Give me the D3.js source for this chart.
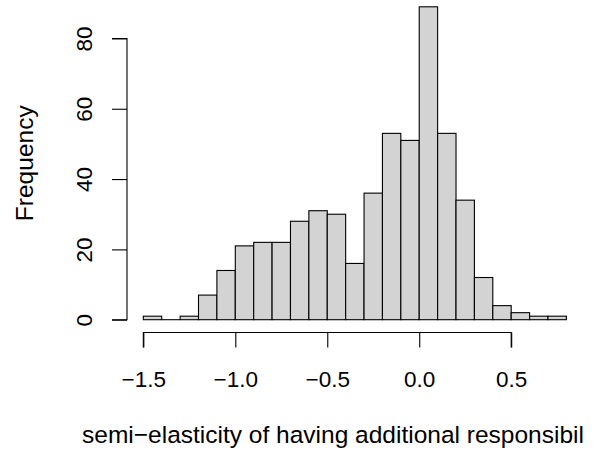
<!DOCTYPE html>
<html>
<head>
<meta charset="utf-8">
<script src="https://cdn.jsdelivr.net/npm/d3@7"></script>
<style>
  body { margin: 0; background: #fff; }
  svg text { font-family: "Liberation Sans", Arial, Helvetica, sans-serif; fill: #000; }
</style>
</head>
<body>
<svg id="hist" width="596" height="456"></svg>
<script>
// histogram bins (width 0.1) and counts
const binStarts = [-1.5, -1.4, -1.3, -1.2, -1.1, -1.0, -0.9, -0.8, -0.7, -0.6, -0.5, -0.4,
  -0.3, -0.2, -0.1, 0.0, 0.1, 0.2, 0.3, 0.4, 0.5, 0.6, 0.7];
const counts = [1, 0, 1, 7, 14, 21, 22, 22, 28, 31, 30, 16,
  36, 53, 51, 89, 53, 34, 12, 4, 2, 1, 1];
const binWidth = 0.1;
const xTicks = [-1.5, -1.0, -0.5, 0.0, 0.5];
const yTicks = [0, 20, 40, 60, 80];

const tickFont = 22.5;
const labFont = 24.5;
const svg = d3.select("#hist");

// plot region (R style: 4% padding on the data range)
const x = d3.scaleLinear().domain([-1.592, 0.892]).range([126.4, 583.3]);
const y = d3.scaleLinear().domain([0, 89]).range([319.7, 6.8]);

const bins = binStarts.map((b, i) => ({ x0: b, x1: b + binWidth, n: counts[i] }));

// bars
svg.selectAll("rect.bar")
  .data(bins.filter(d => d.n > 0))
  .enter()
  .append("rect")
  .attr("class", "bar")
  .attr("x", d => x(d.x0))
  .attr("width", d => x(d.x1) - x(d.x0))
  .attr("y", d => y(d.n))
  .attr("height", d => y(0) - y(d.n))
  .attr("fill", "#d3d3d3")
  .attr("stroke", "#000")
  .attr("stroke-width", 1.1);

// empty bin still shows a flat line on the baseline
svg.selectAll("line.empty")
  .data(bins.filter(d => d.n === 0))
  .enter()
  .append("line")
  .attr("x1", d => x(d.x0))
  .attr("x2", d => x(d.x1))
  .attr("y1", y(0))
  .attr("y2", y(0))
  .attr("stroke", "#000")
  .attr("stroke-width", 1.1);

// x axis
const xAxis = d3.axisBottom(x)
  .tickValues(xTicks)
  .tickSize(15)
  .tickFormat(d => d3.format(".1f")(d).replace("-", "\u2212"));
const gx = svg.append("g")
  .attr("transform", "translate(0,332.5)")
  .call(xAxis);
gx.attr("font-size", null).attr("font-family", null);
gx.select(".domain").attr("d", `M${x(-1.5)},15V0H${x(0.5)}V15`);
gx.selectAll("line, path").attr("stroke-width", 1.1);
gx.selectAll(".tick text")
  .attr("y", 54)
  .attr("dy", 0)
  .style("font-size", tickFont + "px");

// y axis
const yAxis = d3.axisLeft(y)
  .tickValues(yTicks)
  .tickSize(15)
  .tickFormat(d3.format("d"));
const gy = svg.append("g")
  .attr("transform", "translate(127,0)")
  .call(yAxis);
gy.attr("font-size", null).attr("font-family", null);
gy.select(".domain").attr("d", `M-15,${y(0)}H0V${y(80)}H-15`);
gy.selectAll("line, path").attr("stroke-width", 1.1);
gy.selectAll(".tick text")
  .attr("x", 0)
  .attr("dy", 0)
  .attr("transform", "translate(-35,0) rotate(-90)")
  .attr("text-anchor", "middle")
  .style("font-size", tickFont + "px");

// axis titles
svg.append("text")
  .attr("x", 333)
  .attr("y", 443)
  .attr("text-anchor", "middle")
  .style("font-size", labFont + "px")
  .text("semi\u2212elasticity of having additional responsibil");

svg.append("text")
  .attr("transform", `translate(33,${(y(-3.56) + y(92.56)) / 2}) rotate(-90)`)
  .attr("text-anchor", "middle")
  .style("font-size", labFont + "px")
  .text("Frequency");
</script>
</body>
</html>
